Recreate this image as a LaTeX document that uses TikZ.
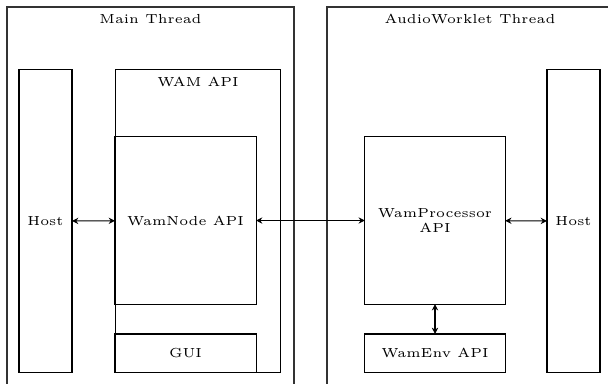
\documentclass[tikz,border=0pt]{standalone}
\usepackage{amsmath}
\usepackage{tikz}
\usetikzlibrary{arrows.meta}

\begin{document}
\begin{tikzpicture}[x=0.0134cm,y=-0.0134cm,>={Stealth[length=2.4pt,width=2.4pt]},
	block/.style={draw,rectangle,inner sep=0pt,outer sep=0pt,font=\tiny,align=center},
	title/.style={font=\tiny,inner sep=0pt}]
\useasboundingbox (0,0) rectangle (608,383);
\clip (0,0) rectangle (608,383);
% threads
\draw[black!80] (7,7) rectangle (294,420);
\draw[black!80] (327,7) rectangle (613,420);
\node[title] (mainlbl) at (150.5,19) {Main Thread};
\node[title] (audiolbl) at (470,19) {AudioWorklet Thread};
% main thread
\node[block,minimum width=0.71cm,minimum height=4.05cm] (hostL) at (45.5,221) {Host};
\node[block,minimum width=2.22cm,minimum height=4.05cm] (wamapi) at (198,221) {};
\node[title] (wamapilbl) at (198,82) {WAM API};
\node[block,minimum width=1.89cm,minimum height=2.24cm] (wamnode) at (185.5,220.5) {WamNode API};
\node[block,minimum width=1.89cm,minimum height=0.51cm] (gui) at (185.5,353) {GUI};
% audioworklet thread
\node[block,minimum width=1.88cm,minimum height=2.24cm] (wamproc) at (435,220.5) {WamProcessor\\API};
\node[block,minimum width=1.88cm,minimum height=0.51cm] (wamenv) at (435,353) {WamEnv API};
\node[block,minimum width=0.71cm,minimum height=4.05cm] (hostR) at (573.5,221) {Host};
% links
\draw[<->] (hostL) -- (wamnode);
\draw[<->] (wamnode) -- (wamproc);
\draw[<->] (wamproc) -- (hostR);
\draw[<->] (wamproc) -- (wamenv);
\end{tikzpicture}
\end{document}
